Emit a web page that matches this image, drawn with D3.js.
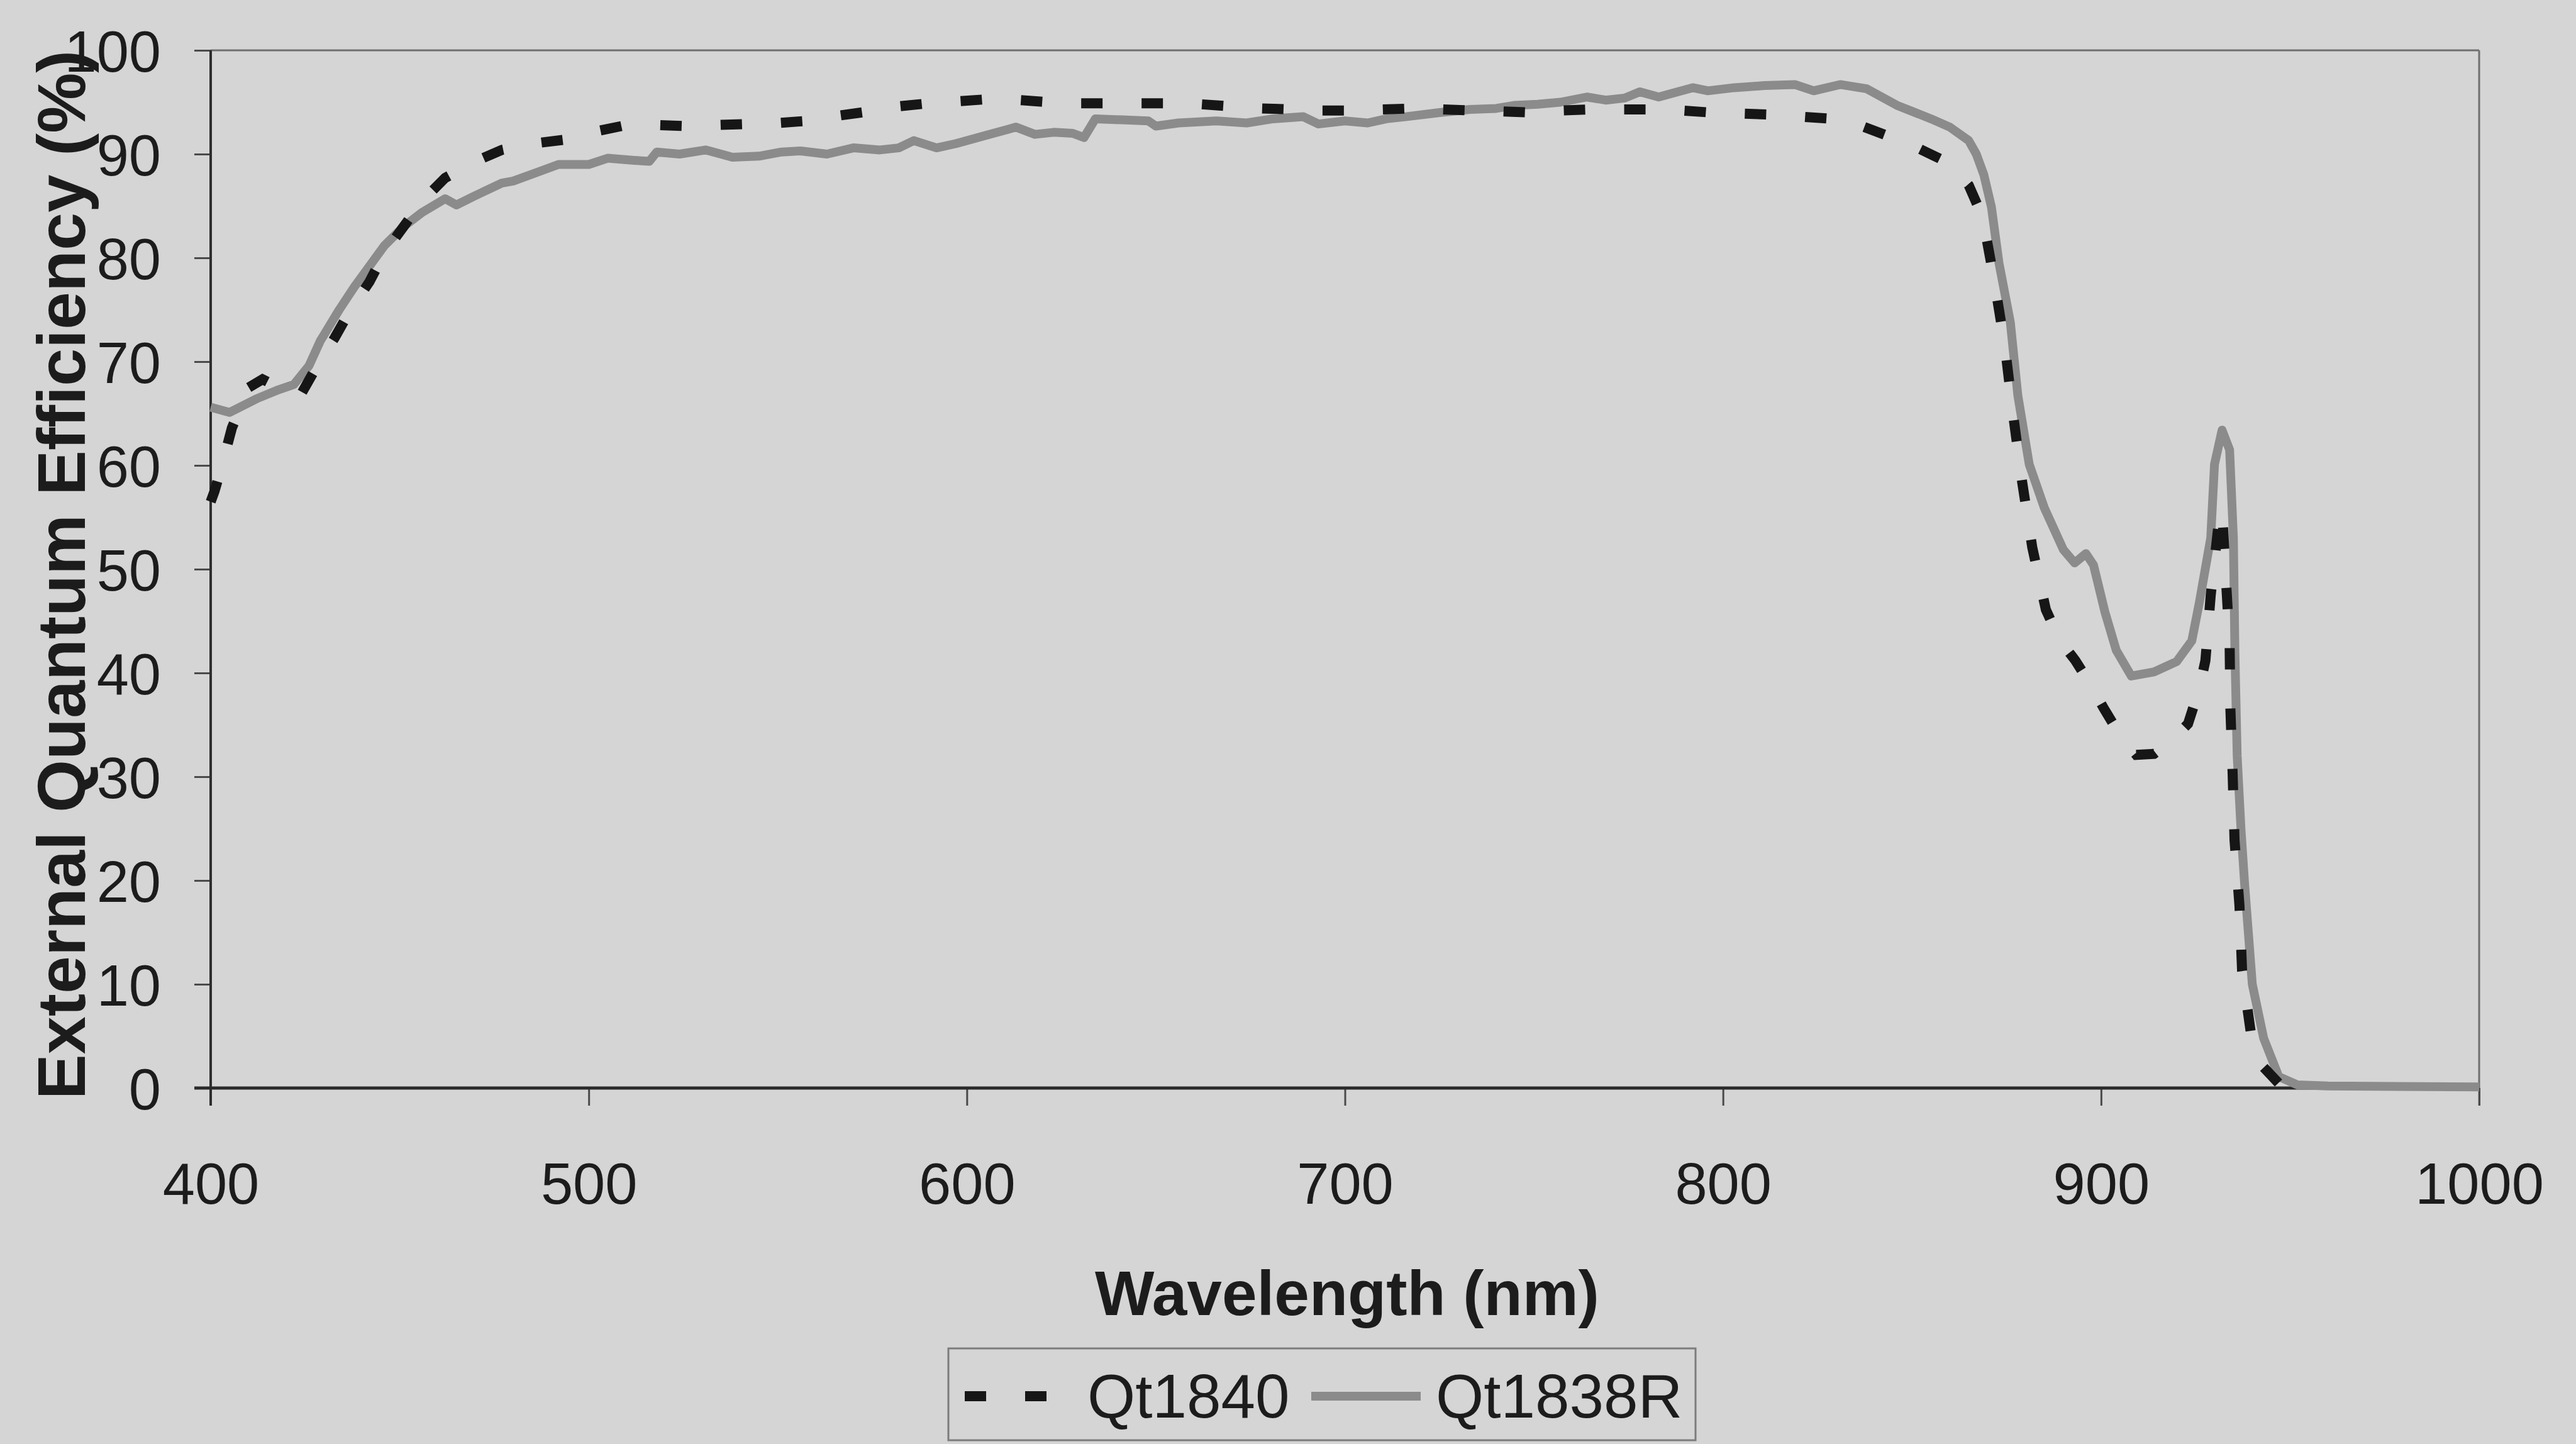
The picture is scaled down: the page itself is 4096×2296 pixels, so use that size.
<!DOCTYPE html>
<html>
<head>
<meta charset="utf-8">
<script src="https://cdn.jsdelivr.net/npm/d3@7"></script>
<style>
	html, body { margin: 0; padding: 0; background: #d5d5d5; }
	svg { display: block; }
	text { font-family: "Liberation Sans", Arial, sans-serif; fill: #1c1c1c; }
</style>
</head>
<body>
<svg></svg>
<script>
/*************EQE curves, Qt1840 vs Qt1838R *************/

var seriesNames = ['Qt1840', 'Qt1838R'];

// Qt1840 (dashed black), wavelength nm / EQE %
var qt1840Wl = [400, 401, 403, 405.6, 410, 413.7, 418, 423.8, 428, 432.8, 437, 442, 446, 451, 456, 462, 470, 477, 485, 494,
	502, 510, 518, 526, 534, 542, 550, 558, 566, 574, 582, 590, 598, 606, 614, 622, 630, 638, 646, 654,
	662, 670, 678, 686, 694, 702, 710, 718, 726, 734, 742, 750, 757, 765, 773, 781, 789, 797, 805, 813,
	821, 829, 836, 844, 852, 860, 865, 868.7, 871.8, 874.6, 876.7, 879, 881.8, 885.4, 889, 893.2, 897, 900.7, 905, 909.3,
	914, 919, 923, 926, 927.6, 929, 931, 932, 933, 934, 934.2, 934.8, 935.3, 936.6, 937.3, 939.7, 943, 947.4, 951];
var qt1840Eqe = [56.5, 57.5, 60, 63.6, 67.5, 68.3, 67.5, 66.8, 69.5, 72.3, 75, 77.7, 80.5, 83.0, 85.5, 87.7, 89.3, 90.4, 91.0, 91.4,
	92.2, 92.8, 92.8, 92.7, 92.8, 92.9, 93.0, 93.2, 93.7, 94.1, 94.6, 94.9, 95.1, 95.3, 95.2, 95.0, 94.9, 94.9, 94.9, 94.9,
	94.8, 94.6, 94.4, 94.3, 94.2, 94.2, 94.3, 94.4, 94.3, 94.2, 94.1, 94.0, 94.2, 94.3, 94.3, 94.3, 94.2, 94.0, 93.9, 93.8,
	93.6, 93.4, 92.8, 91.7, 90.5, 89.1, 87.0, 83.9, 77.7, 71.4, 65.0, 58.7, 52.1, 46.1, 43.2, 41.2, 39.0, 36.6, 34.0, 32.1,
	32.2, 33.6, 35.1, 38.5, 41.2, 47.5, 54.1, 55.8, 49.2, 42.9, 36.6, 30.3, 23.9, 17.6, 11.3, 5.1, 2.0, 0.3, 0];

// Qt1838R (solid grey)
var qt1838Wl = [400, 405, 412, 418, 422, 426, 429, 434, 438, 442, 446, 451, 456, 462, 465, 470, 477, 480, 486, 492,
	500, 505, 512, 516, 518, 524, 531, 538, 545, 551, 556, 563, 570, 577, 582, 586, 592, 597, 602, 607,
	611, 613, 618, 623, 628, 631, 634, 641, 648, 650, 656, 666, 674, 681, 689, 693, 700, 706, 711, 716,
	725, 733, 740, 745, 751, 757, 764, 769, 774, 778, 783, 788, 792, 796, 803, 811, 819, 824, 831, 838,
	846, 855, 860, 865, 867, 869, 871, 873, 876, 878, 881, 885, 890, 893, 896, 898, 901, 904, 908, 914,
	920, 924, 926, 929, 930, 932, 934, 935, 935.4, 936, 937, 938, 940, 943, 947, 952, 960, 1000];
var qt1838Eqe = [65.6, 65.1, 66.4, 67.3, 67.8, 69.6, 72.0, 75.0, 77.2, 79.2, 81.2, 83.0, 84.4, 85.7, 85.1, 86.0, 87.2, 87.4, 88.2, 89.0,
	89.0, 89.6, 89.4, 89.3, 90.2, 90.0, 90.4, 89.7, 89.8, 90.2, 90.3, 90.0, 90.6, 90.4, 90.6, 91.3, 90.6, 91.0, 91.5, 92.0,
	92.4, 92.6, 91.9, 92.1, 92.0, 91.6, 93.4, 93.3, 93.2, 92.7, 93.0, 93.2, 93.0, 93.4, 93.6, 92.9, 93.2, 93.0, 93.4, 93.6,
	94.0, 94.3, 94.4, 94.7, 94.8, 95.0, 95.5, 95.2, 95.4, 96.0, 95.5, 96.0, 96.4, 96.1, 96.4, 96.6, 96.7, 96.1, 96.7, 96.3,
	94.7, 93.4, 92.6, 91.3, 90.0, 88.0, 84.9, 79.5, 73.8, 66.7, 60.1, 55.9, 51.9, 50.6, 51.5, 50.4, 45.9, 42.2, 39.7, 40.1,
	41.1, 43.1, 46.8, 53.0, 60.1, 63.4, 61.5, 53.0, 42.0, 32.0, 25.0, 19.5, 10.0, 4.8, 1.1, 0.3, 0.2, 0.1];

var xTicks = [400, 500, 600, 700, 800, 900, 1000];
var yTicks = [0, 10, 20, 30, 40, 50, 60, 70, 80, 90, 100];

var W = 4096, H = 2296;

var svg = d3.select('svg')
	.attr('width', W)
	.attr('height', H);

svg.append('rect')
	.attr('width', W)
	.attr('height', H)
	.attr('fill', '#d5d5d5');

var x = d3.scaleLinear().domain([400, 1000]).range([335, 3942]);
var y = d3.scaleLinear().domain([0, 100]).range([1730, 80]);

// frame (top / right lighter, like the original)
svg.append('line')
	.attr('x1', x(400)).attr('x2', x(1000))
	.attr('y1', y(100)).attr('y2', y(100))
	.attr('stroke', '#6f6f6f').attr('stroke-width', 3);
svg.append('line')
	.attr('x1', x(1000)).attr('x2', x(1000))
	.attr('y1', y(100)).attr('y2', y(0) + 28)
	.attr('stroke', '#6f6f6f').attr('stroke-width', 3);

// axes
var yAxis = d3.axisLeft(y).tickValues(yTicks).tickSize(26).tickPadding(53).tickSizeOuter(0);
var xAxis = d3.axisBottom(x).tickValues(xTicks).tickSize(28).tickSizeOuter(0)
	.tickFormat(d3.format('d'));

var gy = svg.append('g')
	.attr('transform', 'translate(' + x(400) + ',0)')
	.call(yAxis);
var gx = svg.append('g')
	.attr('transform', 'translate(0,' + y(0) + ')')
	.call(xAxis);

[gx, gy].forEach(function (g) {
	g.select('.domain').remove();
	g.selectAll('.tick line').attr('stroke', '#4a4a4a').attr('stroke-width', 3);
	g.selectAll('.tick text')
		.attr('fill', '#1c1c1c')
		.style('font-size', '92px');
});
gx.selectAll('.tick text').attr('y', 151).attr('dy', '0.36em');
gy.selectAll('.tick text').attr('dy', '0.36em');

svg.append('line')
	.attr('x1', x(400)).attr('x2', x(400))
	.attr('y1', y(100)).attr('y2', y(0) + 28)
	.attr('stroke', '#2e2e2e').attr('stroke-width', 4);
svg.append('line')
	.attr('x1', x(400) - 26).attr('x2', x(1000))
	.attr('y1', y(0)).attr('y2', y(0))
	.attr('stroke', '#2a2a2a').attr('stroke-width', 5);

// titles
svg.append('text')
	.attr('transform', 'translate(97,914) rotate(-90)')
	.attr('text-anchor', 'middle')
	.attr('dominant-baseline', 'central')
	.style('font-size', '108px')
	.style('font-weight', 'bold')
	.text('External Quantum Efficiency (%)');

svg.append('text')
	.attr('x', 2142).attr('y', 2056)
	.attr('text-anchor', 'middle')
	.attr('dominant-baseline', 'central')
	.style('font-size', '100px')
	.style('font-weight', 'bold')
	.text('Wavelength (nm)');

// curves
var line = d3.line()
	.x(function (d) { return x(d[0]); })
	.y(function (d) { return y(d[1]); });

var grey = qt1838Wl.map(function (w, i) { return [w, qt1838Eqe[i]]; });
var black = qt1840Wl.map(function (w, i) { return [w, qt1840Eqe[i]]; });

svg.append('path')
	.datum(grey)
	.attr('d', line)
	.attr('fill', 'none')
	.attr('stroke', '#8b8b8b')
	.attr('stroke-width', 14)
	.attr('stroke-linejoin', 'round');

svg.append('path')
	.datum(black)
	.attr('d', line)
	.attr('fill', 'none')
	.attr('stroke', '#161616')
	.attr('stroke-width', 16)
	.attr('stroke-dasharray', '34,62');

// legend
var lg = svg.append('g');
lg.append('rect')
	.attr('x', 1508).attr('y', 2144)
	.attr('width', 1188).attr('height', 146)
	.attr('fill', 'none')
	.attr('stroke', '#7c7c7c')
	.attr('stroke-width', 3);
lg.append('line')
	.attr('x1', 1534).attr('x2', 1700)
	.attr('y1', 2220).attr('y2', 2220)
	.attr('stroke', '#161616').attr('stroke-width', 16)
	.attr('stroke-dasharray', '34,62');
lg.append('text')
	.attr('x', 1729).attr('y', 2220)
	.attr('dominant-baseline', 'central')
	.style('font-size', '98px')
	.text(seriesNames[0]);
lg.append('line')
	.attr('x1', 2085).attr('x2', 2259)
	.attr('y1', 2220).attr('y2', 2220)
	.attr('stroke', '#8b8b8b').attr('stroke-width', 14);
lg.append('text')
	.attr('x', 2283).attr('y', 2220)
	.attr('dominant-baseline', 'central')
	.style('font-size', '98px')
	.text(seriesNames[1]);
</script>
</body>
</html>
